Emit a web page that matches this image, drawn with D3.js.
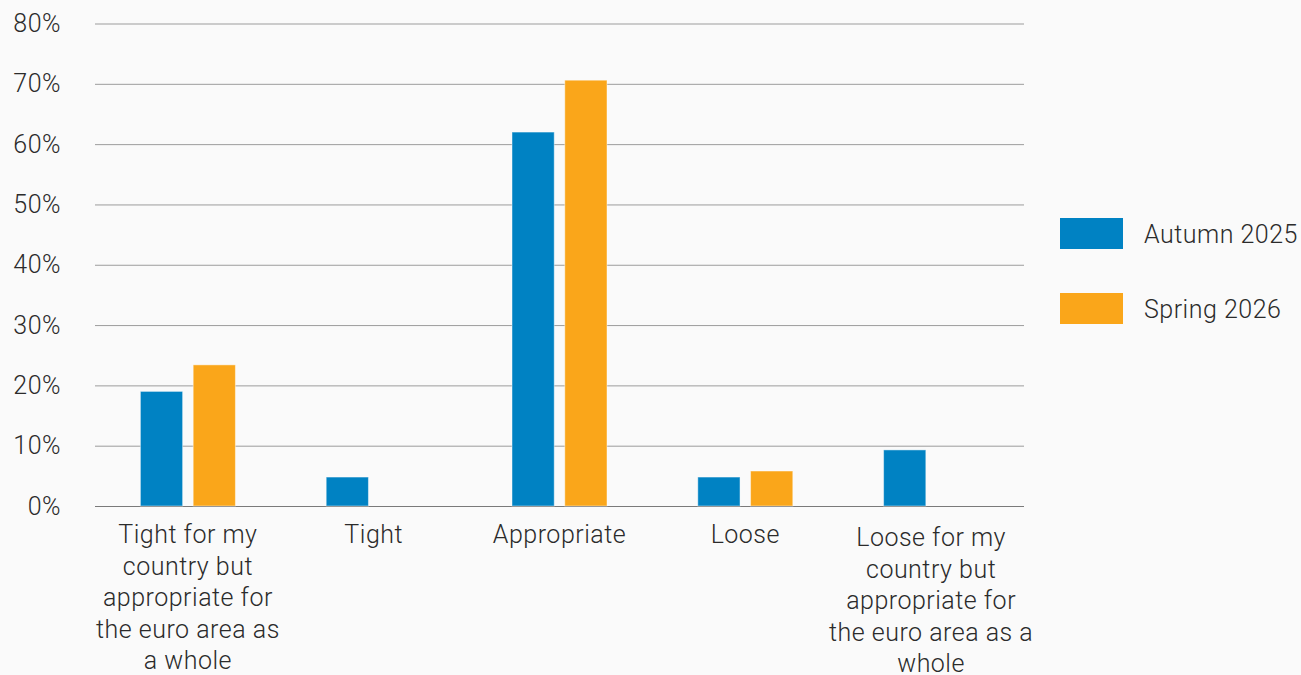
<!DOCTYPE html>
<html lang="en">
<head>
    <meta charset="utf-8">
    <title>Monetary policy stance</title>
    <script src="https://d3js.org/d3.v7.min.js"></script>
    <style>
        html, body { margin: 0; padding: 0; background: #fafafa; }
        svg { display: block; }
        svg text { font-family: Roboto, "DejaVu Sans", sans-serif; font-weight: 300; letter-spacing: 0.5px; }
    </style>
</head>
<body>
<svg width="1301" height="675"></svg>
<script>
    // data
    var categories = [
        "Tight for my country but appropriate for the euro area as a whole",
        "Tight",
        "Appropriate",
        "Loose",
        "Loose for my country but appropriate for the euro area as a whole"
    ];
    // how each category label wraps in the reference
    var categoryLines = [
        ["Tight for my", "country but", "appropriate for", "the euro area as", "a whole"],
        ["Tight"],
        ["Appropriate"],
        ["Loose"],
        ["Loose for my", "country but", "appropriate for", "the euro area as a", "whole"]
    ];
    var seriesNames = ["Autumn 2025", "Spring 2026"];
    var autumn2025 = [0.190, 0.048, 0.620, 0.048, 0.093];
    var spring2026 = [0.234, 0, 0.706, 0.058, 0];
    var yTicks = [0, 0.1, 0.2, 0.3, 0.4, 0.5, 0.6, 0.7, 0.8];

    var colors = {"Autumn 2025": "#0082c3", "Spring 2026": "#faa61a"};

    var svg = d3.select("svg");
    var marge = {top: 23.5, left: 95, right: 277, bottom: 169};
    var width = +svg.attr("width");
    var height = +svg.attr("height");

    var x0 = d3.scaleBand()
        .domain(categories)
        .range([marge.left, width - marge.right]);
    var x1 = d3.scaleBand()
        .domain(seriesNames)
        .range([0, 95])
        .paddingInner(0.2);
    var y = d3.scaleLinear()
        .domain([0, 0.8])
        .range([height - marge.bottom, marge.top]);

    // grid + y labels
    var yAxis = d3.axisLeft(y)
        .tickValues(yTicks)
        .tickFormat(d3.format(".0%"))
        .tickSize(-(width - marge.left - marge.right))
        .tickPadding(34);
    var gy = svg.append("g")
        .attr("transform", "translate(" + marge.left + ",0)")
        .call(yAxis)
        .attr("font-family", null)
        .attr("font-size", null);
    gy.select(".domain").remove();
    gy.selectAll(".tick line")
        .attr("stroke", function(d) { return d === 0 ? "#7a7a7a" : "#9c9c9c"; })
        .attr("stroke-width", 1);
    gy.selectAll(".tick text")
        .attr("fill", "#2b2b2b")
        .style("font-size", "25px");

    // bars
    var rows = categories.map(function(c, i) {
        return {cat: c, values: [
            {name: seriesNames[0], v: autumn2025[i]},
            {name: seriesNames[1], v: spring2026[i]}
        ]};
    });
    var groupOffset = (x0.bandwidth() - 95) / 2;
    var gs = svg.append("g").selectAll("g")
        .data(rows)
        .enter()
        .append("g")
        .attr("transform", function(d) { return "translate(" + (x0(d.cat) + groupOffset) + ",0)"; });
    gs.selectAll("rect")
        .data(function(d) { return d.values.filter(function(s) { return s.v > 0; }); })
        .enter()
        .append("rect")
        .attr("x", function(d) { return x1(d.name); })
        .attr("y", function(d) { return y(d.v); })
        .attr("width", x1.bandwidth())
        .attr("height", function(d) { return y(0) - y(d.v); })
        .attr("fill", function(d) { return colors[d.name]; })
        .attr("stroke", "rgba(255,255,255,0.45)")
        .attr("stroke-width", 1);

    // category labels
    var labels = svg.append("g").selectAll("text")
        .data(categories)
        .enter()
        .append("text")
        .attr("text-anchor", "middle")
        .attr("fill", "#2b2b2b")
        .style("font-size", "25px")
        .attr("y", function(d, i) { return i === 4 ? 546 : 543; });
    labels.selectAll("tspan")
        .data(function(d, i) { return categoryLines[i].map(function(l) { return {line: l, cat: d}; }); })
        .enter()
        .append("tspan")
        .attr("x", function(d) { return x0(d.cat) + x0.bandwidth() / 2; })
        .attr("dy", function(d, i) { return i === 0 ? 0 : 31.6; })
        .text(function(d) { return d.line; });

    // legend
    var legend = svg.append("g").selectAll("g")
        .data(seriesNames)
        .enter()
        .append("g")
        .attr("transform", function(d, i) { return "translate(1060," + (218 + i * 75) + ")"; });
    legend.append("rect")
        .attr("width", 63)
        .attr("height", 31)
        .attr("fill", function(d) { return colors[d]; });
    legend.append("text")
        .attr("x", 84)
        .attr("y", 25)
        .attr("fill", "#2b2b2b")
        .style("font-size", "25px")
        .text(function(d) { return d; });
</script>
</body>
</html>
